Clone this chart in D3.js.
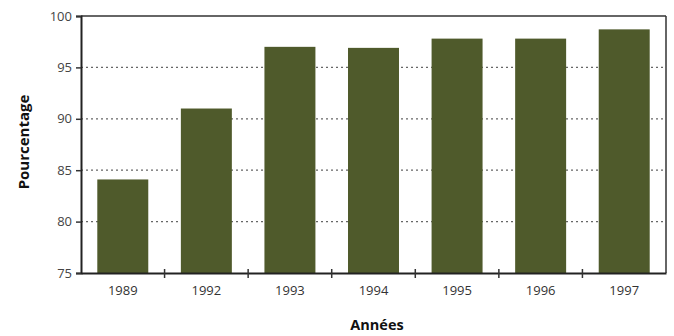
<!DOCTYPE html>
<html><head><meta charset="utf-8">
<script src="https://cdn.jsdelivr.net/npm/d3@7"></script>
<style>body{margin:0;background:#fff;}svg{display:block;}</style>
</head><body>
<svg id="c" width="674" height="336"></svg>
<script>
const categories = ["1989","1992","1993","1994","1995","1996","1997"];
const values = [84.1, 91.0, 97.0, 96.9, 97.8, 97.8, 98.7];
const yTicks = [75, 80, 85, 90, 95, 100];

const svg = d3.select("#c");
const L = 81, R = 666, T = 16, B = 273;
const x = d3.scaleBand().domain(categories).range([L, R]).paddingInner(0.39).paddingOuter(0.195);
const y = d3.scaleLinear().domain([75, 100]).range([B, T]);

// grid
svg.append("g").selectAll("line").data(yTicks.filter(d => d > 75 && d < 100)).join("line")
  .attr("x1", L).attr("x2", R).attr("y1", d => y(d)).attr("y2", d => y(d))
  .attr("stroke", "#666").attr("stroke-width", 1.2).attr("stroke-dasharray", "2,3");

// bars
svg.append("g").selectAll("rect").data(values).join("rect")
  .attr("x", (d, i) => x(categories[i])).attr("width", x.bandwidth())
  .attr("y", d => y(d)).attr("height", d => B - y(d))
  .attr("fill", "#4f5a2b");

// frame
svg.append("line").attr("x1", L).attr("x2", R).attr("y1", T).attr("y2", T).attr("stroke", "#333").attr("stroke-width", 1.5);
svg.append("line").attr("x1", R).attr("x2", R).attr("y1", T).attr("y2", B).attr("stroke", "#333").attr("stroke-width", 1.5);

// y axis
const ya = svg.append("g").attr("transform", `translate(${L},0)`)
  .call(d3.axisLeft(y).tickValues(yTicks).tickSize(5).tickPadding(4));
ya.select(".domain").attr("stroke", "#222").attr("stroke-width", 2);
ya.selectAll(".tick line").attr("stroke", "#333").attr("stroke-width", 1.5);
ya.selectAll("text").attr("font-family", "Open Sans, sans-serif").attr("font-size", 13).attr("fill", "#444");

// x axis
const xa = svg.append("g").attr("transform", `translate(0,${B})`)
  .call(d3.axisBottom(x).tickSize(0).tickPadding(13));
xa.select(".domain").attr("stroke", "#222").attr("stroke-width", 2);
xa.selectAll("text").attr("font-family", "Open Sans, sans-serif").attr("font-size", 13).attr("fill", "#333");
const step = x.step();
const bounds = d3.range(1, categories.length).map(i => L + i * step);
svg.append("g").selectAll("line").data(bounds).join("line")
  .attr("x1", d => d).attr("x2", d => d).attr("y1", B - 4).attr("y2", B + 5)
  .attr("stroke", "#333").attr("stroke-width", 1.5);

// titles
svg.append("text").attr("x", 377).attr("y", 330).attr("text-anchor", "middle")
  .attr("font-family", "Open Sans, sans-serif").attr("font-weight", "bold").attr("font-size", 14.5).attr("fill", "#111")
  .text("Années");
svg.append("text").attr("transform", "translate(29,142) rotate(-90)").attr("text-anchor", "middle")
  .attr("font-family", "Open Sans, sans-serif").attr("font-weight", "bold").attr("font-size", 15).attr("fill", "#111")
  .text("Pourcentage");
</script>
</body></html>
